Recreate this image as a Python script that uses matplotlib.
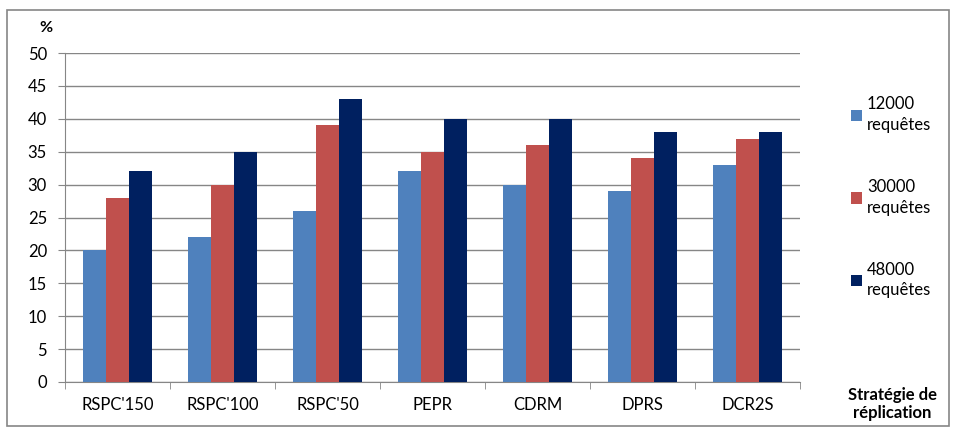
import matplotlib
matplotlib.use("Agg")
import matplotlib.pyplot as plt
import numpy as np
from matplotlib.patches import Rectangle

categories = ["RSPC'150", "RSPC'100", "RSPC'50", "PEPR", "CDRM", "DPRS", "DCR2S"]
series_names = ["12000\nrequêtes", "30000\nrequêtes", "48000\nrequêtes"]
v12000 = [20, 22, 26, 32, 30, 29, 33]
v30000 = [28, 30, 39, 35, 36, 34, 37]
v48000 = [32, 35, 43, 40, 40, 38, 38]
colors = ["#4F81BD", "#C0504D", "#002060"]
yticks = [0, 5, 10, 15, 20, 25, 30, 35, 40, 45, 50]

plt.rcParams['font.family'] = ['Lato', 'DejaVu Sans']
FS = 12
W, H = 956, 429
fig = plt.figure(figsize=(W/100, H/100), dpi=100)
ax = fig.add_axes([65/W, 1-382/H, (800-65)/W, (382-53)/H])

x = np.arange(len(categories))
bw = 0.22
for i, (vals, c, n) in enumerate(zip([v12000, v30000, v48000], colors, series_names)):
    ax.bar(x + (i-1)*bw, vals, bw, color=c, label=n, zorder=3)

ax.set_xlim(-0.5, len(categories)-0.5)
ax.set_ylim(0, 50)
ax.set_yticks(yticks)
ax.set_yticklabels([str(t) for t in yticks], fontsize=FS)
ax.yaxis.grid(True, color="#868686", linewidth=1, zorder=0)
ax.set_xticks(x)
ax.set_xticklabels(categories, fontsize=FS)
ax.set_xticks(np.arange(len(categories)+1)-0.5, minor=True)
ax.tick_params(axis='x', which='major', length=0, pad=11)
ax.tick_params(axis='x', which='minor', length=5, color="#868686")
ax.tick_params(axis='y', length=5, color="#868686", pad=8)
for s in ['top', 'right']:
    ax.spines[s].set_visible(False)
for s in ['left', 'bottom']:
    ax.spines[s].set_color("#868686")

fig.text(46/W, 1-28/H, "%", fontsize=FS-0.5, fontweight='bold', ha='center', va='center')
fig.text(892/W, 1-404/H, "Stratégie de\nréplication", fontsize=FS, fontweight='bold',
         ha='center', va='center', linespacing=1.15)

leg = ax.legend(loc='upper left', bbox_to_anchor=(851/W, 1-96/H), bbox_transform=fig.transFigure,
                frameon=False, fontsize=FS, handlelength=0.66, handleheight=0.66,
                handletextpad=0.3, labelspacing=2.75, borderpad=0, borderaxespad=0)
for t in leg.get_texts():
    t.set_linespacing(1.38)

fig.patches.append(Rectangle((7/W, 1-426/H), (949-7)/W, (426-10)/H, transform=fig.transFigure,
                             fill=False, edgecolor="#868686", linewidth=1.2))

fig.savefig("out.png", dpi=100)
